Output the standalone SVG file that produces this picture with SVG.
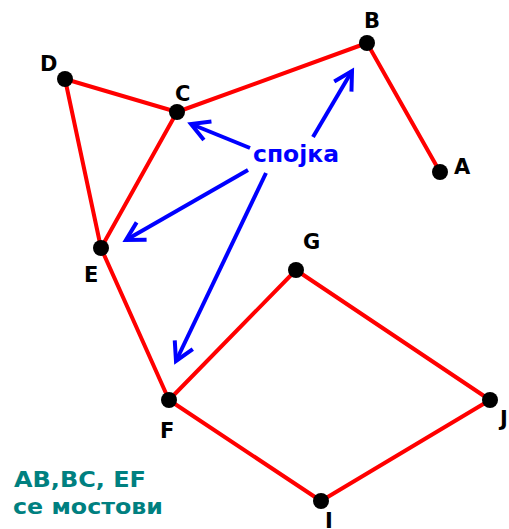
<svg xmlns="http://www.w3.org/2000/svg" width="509" height="529" viewBox="0 0 509 529">
<defs>
<style>
.edge{stroke:#ff0000;stroke-width:4;stroke-linecap:round;fill:none}
.arr{stroke:#0000ff;stroke-width:4;fill:none;marker-end:url(#ah)}
.dot{fill:#000}
.lbl{font-family:"DejaVu Sans",Verdana,sans-serif;font-weight:bold;font-size:21px;fill:#000}
.note{font-family:"DejaVu Sans",Verdana,sans-serif;font-weight:bold;fill:#008080}
</style>
<marker id="ah" markerUnits="userSpaceOnUse" markerWidth="40" markerHeight="40" refX="0" refY="0" viewBox="-25 -20 30 40" orient="auto" overflow="visible">
<path d="M-18,-10 L0,0 L-18,10" stroke="#0000ff" stroke-width="4" fill="none" stroke-linejoin="miter" stroke-linecap="butt"/>
</marker>
</defs>
<rect width="509" height="529" fill="#fff"/>
<g id="edges">
<line class="edge" x1="65" y1="79" x2="177" y2="112"/>
<line class="edge" x1="177" y1="112" x2="367" y2="43"/>
<line class="edge" x1="367" y1="43" x2="440" y2="172"/>
<line class="edge" x1="65" y1="79" x2="101" y2="248"/>
<line class="edge" x1="177" y1="112" x2="101" y2="248"/>
<line class="edge" x1="101" y1="248" x2="169" y2="400"/>
<line class="edge" x1="169" y1="400" x2="296" y2="270"/>
<line class="edge" x1="296" y1="270" x2="490" y2="400"/>
<line class="edge" x1="490" y1="400" x2="321" y2="501"/>
<line class="edge" x1="321" y1="501" x2="169" y2="400"/>
</g>
<g id="connectors">
<line class="arr" x1="250" y1="148" x2="191" y2="124"/>
<line class="arr" x1="313" y1="137" x2="352" y2="71"/>
<line class="arr" x1="248" y1="170" x2="126" y2="240"/>
<line class="arr" x1="266" y1="173" x2="176" y2="361"/>
</g>
<g id="node-A"><circle class="dot" cx="440" cy="172" r="8"/><text class="lbl" x="454" y="174">A</text></g>
<g id="node-B"><circle class="dot" cx="367" cy="43" r="8"/><text class="lbl" x="364" y="28">B</text></g>
<g id="node-C"><circle class="dot" cx="177" cy="112" r="8"/><text class="lbl" x="175" y="101">C</text></g>
<g id="node-D"><circle class="dot" cx="65" cy="79" r="8"/><text class="lbl" x="40" y="71">D</text></g>
<g id="node-E"><circle class="dot" cx="101" cy="248" r="8"/><text class="lbl" x="84" y="282">E</text></g>
<g id="node-F"><circle class="dot" cx="169" cy="400" r="8"/><text class="lbl" x="160" y="438">F</text></g>
<g id="node-G"><circle class="dot" cx="296" cy="270" r="8"/><text class="lbl" x="303" y="249">G</text></g>
<g id="node-J"><circle class="dot" cx="490" cy="400" r="8"/><text class="lbl" x="500" y="426">J</text></g>
<g id="node-I"><circle class="dot" cx="321" cy="501" r="8"/><text class="lbl" x="325" y="528">I</text></g>
<g id="label-spojka"><text x="253" y="162" font-family="'DejaVu Sans',Verdana,sans-serif" font-weight="bold" font-size="23" fill="#0000ff" textLength="86" lengthAdjust="spacingAndGlyphs">спојка</text></g>
<g id="note">
<text class="note" x="14" y="487" font-size="22" textLength="132" lengthAdjust="spacingAndGlyphs">AB,BC, EF</text>
<text class="note" x="13" y="514" font-size="22" textLength="150" lengthAdjust="spacingAndGlyphs">се мостови</text>
</g>
</svg>
